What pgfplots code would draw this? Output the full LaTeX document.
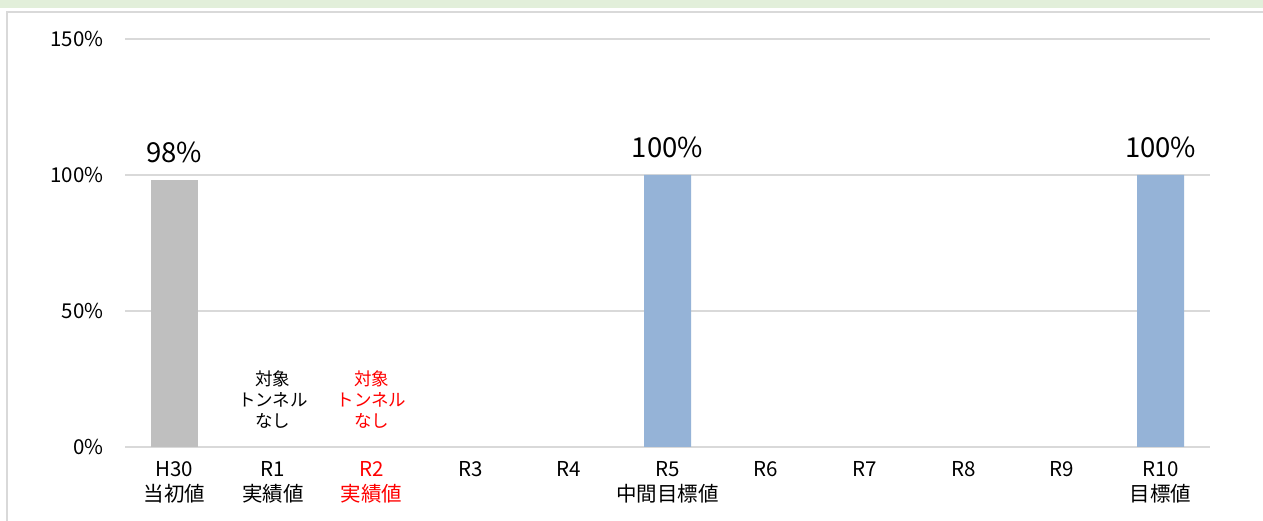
\documentclass[border=0pt]{standalone}
\usepackage{pgfplots}
\pgfplotsset{compat=1.18}
\usepackage{fontspec}
\setmainfont{Noto Sans CJK JP}
\definecolor{barblue}{HTML}{95B3D7}
\definecolor{bargray}{HTML}{BFBFBF}
\definecolor{gridgray}{HTML}{D9D9D9}
\definecolor{bandgreen}{HTML}{E2EFDA}
\begin{document}
\begin{tikzpicture}[x=1pt,y=1pt]
\clip (0,0) rectangle (1263,521);
\fill[white] (0,0) rectangle (1263,521);
\fill[bandgreen] (0,513) rectangle (1263,521);
\draw[gridgray, line width=1.5pt] (7,-10) rectangle (1290,509);
\begin{axis}[
  at={(125pt,74pt)}, anchor=south west,
  width=1085pt, height=408pt, scale only axis,
  xmin=-0.5, xmax=10.5, ymin=0, ymax=150,
  ytick={0,50,100,150}, yticklabels={0\%,50\%,100\%,150\%},
  xtick={0,1,2,3,4,5,6,7,8,9,10},
  xticklabels={H30\\当初値, R1\\実績値, \textcolor{red}{R2}\\\textcolor{red}{実績値}, R3, R4, R5\\中間目標値, R6, R7, R8, R9, R10\\目標値},
  axis line style={draw=none},
  ymajorgrids, grid style={gridgray, line width=1.2pt},
  major tick length=0pt,
  /pgf/number format/assume math mode=true,
  tick label style={font=\fontsize{20.5}{25}\selectfont},
  xticklabel style={align=center, yshift=-11pt},
  yticklabel style={xshift=-18pt},
  ybar, bar width=47pt,
  nodes near coords={\pgfmathprintnumber{\pgfplotspointmeta}\%},
  every node near coord/.append style={font=\fontsize{27.5}{30}\selectfont, yshift=14pt, text=black},
  clip=false,
]
\addplot[fill=bargray, draw=none, bar shift=0pt] coordinates {(0,98)};
\addplot[fill=barblue, draw=none, bar shift=0pt] coordinates {(5,100) (10,100)};
\node[align=center, font=\fontsize{17.5}{21}\selectfont, text=black] at (axis cs:1,17.3) {対象\\トンネル\\なし};
\node[align=center, font=\fontsize{17.5}{21}\selectfont, text=red] at (axis cs:2,17.3) {対象\\トンネル\\なし};
\end{axis}
\end{tikzpicture}
\end{document}
